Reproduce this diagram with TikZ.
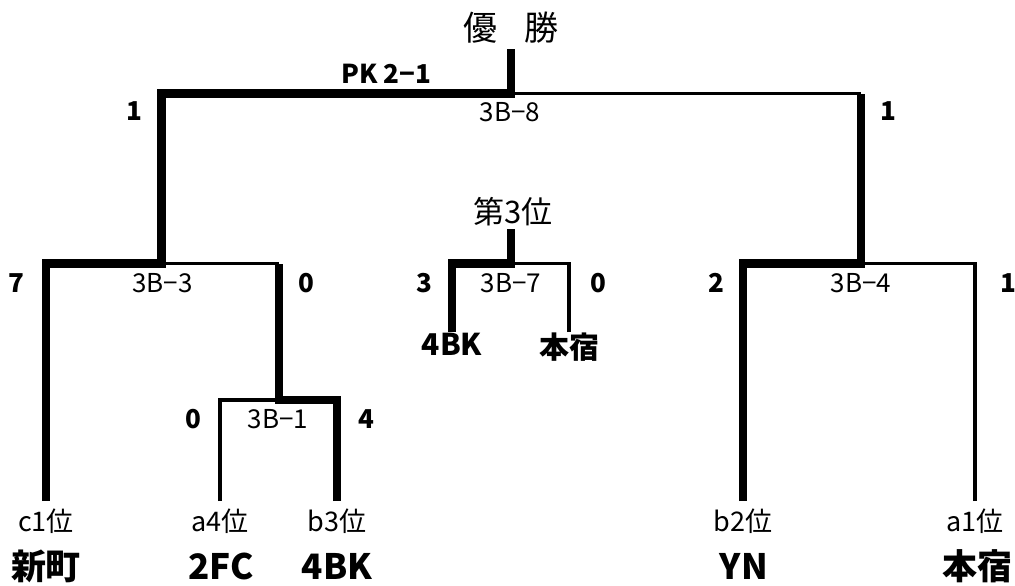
\documentclass[tikz,border=0pt]{standalone}
\usepackage{fontspec}
\setmainfont{Noto Sans CJK JP}
\usetikzlibrary{positioning}

\begin{document}
\begin{tikzpicture}[x=1pt, y=-1pt,
  win/.style={line width=8.5pt, miter limit=10},
  lose/.style={line width=3.5pt},
  score/.style={font=\fontsize{26}{26}\selectfont\bfseries, inner sep=0pt},
  code/.style={font=\fontsize{26}{26}\selectfont, inner sep=0pt},
  seed/.style={font=\fontsize{27}{27}\selectfont, inner xsep=0pt, inner ysep=8pt, anchor=north},
  team/.style={font=\fontsize{35}{35}\selectfont\bfseries, inner sep=0pt},
  midteam/.style={font=\fontsize{30}{30}\selectfont\bfseries, inner xsep=0pt, inner ysep=1pt, anchor=north},
  title/.style={font=\fontsize{34}{34}\selectfont, inner sep=0pt}
]
\useasboundingbox (0,0) rectangle (1015,586);

% Match points
\coordinate (champ) at (511,49);
\coordinate (m8) at (511,93.5);
\coordinate (m3) at (161.5,263.5);
\coordinate (m4) at (861,263.5);
\coordinate (m1) at (279,400);
\coordinate (third) at (511,229);
\coordinate (m7) at (511,263.5);

% Seeds
\node[seed] (c1) at (46,501) {c1位};
\node[seed] (a4) at (220,501) {a4位};
\node[seed] (b3) at (337,501) {b3位};
\node[seed] (b2) at (743,501) {b2位};
\node[seed] (a1) at (975,501) {a1位};

% Teams
\node[team] (t1) at (46,566) {新町};
\node[team] (t2) at (221,566) {2FC};
\node[team] (t3) at (337,566) {4BK};
\node[team] (t4) at (744,566) {YN};
\node[team] (t5) at (977,566) {本宿};

% 3rd place teams
\node[midteam] (bk) at (452,332) {4BK};
\node[midteam] (hj) at (569,332) {本宿};

% Losing sides
\draw[lose] (a4.north) |- (m1);
\draw[lose] (m3) -- (m1 |- m3);
\draw[lose] (m8) -- (m4 |- m8);
\draw[lose] (a1.north) |- (m4);
\draw[lose] (hj.north) |- (m7);

% Winning sides
\draw[win] (c1.north) |- (m3) |- (m8) -- (champ);
\draw[win] (b3.north) |- (m1) -- (m1 |- m3);
\draw[win] (b2.north) |- (m4) -- (m4 |- m8);
\draw[win] (bk.north) |- (m7) -- (third);

% Titles
\node[title] (win) at (511,27.5) {優\hspace{0.8em}勝};
\node[title, font=\fontsize{31}{31}\selectfont] (bronze) at (513,211.5) {第3位};

% Scores and match codes
\node[score] (pk) at (386,73.5) {PK 2−1};
\node[score] (s8l) at (134,111) {1};
\node[code] (c8) at (510,112.5) {3B−8};
\node[score] (s8r) at (888,111) {1};
\node[score] (s3l) at (16,283) {7};
\node[code] (c3) at (162.5,283) {3B−3};
\node[score] (s3r) at (306.5,283) {0};
\node[score] (s7l) at (424,283) {3};
\node[code] (c7) at (511,283) {3B−7};
\node[score] (s7r) at (598,283) {0};
\node[score] (s4l) at (716,283) {2};
\node[code] (c4) at (861,283) {3B−4};
\node[score] (s4r) at (1008,283) {1};
\node[score] (s1l) at (193.5,419) {0};
\node[code] (c1m) at (278,419) {3B−1};
\node[score] (s1r) at (366,419) {4};

\end{tikzpicture}
\end{document}
